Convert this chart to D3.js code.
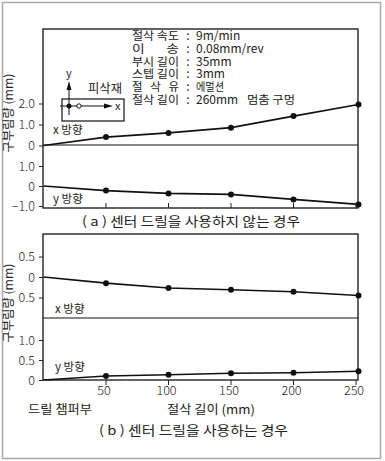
<!DOCTYPE html>
<html>
<head>
<meta charset="utf-8">
<script src="https://cdn.jsdelivr.net/npm/d3@7"></script>
<style>
  body { margin: 0; background: #fff; }
  text { font-family: "Noto Sans CJK KR", "Noto Sans", sans-serif; fill: #222; }
</style>
</head>
<body>
<div id="chart"></div>
<script>
// 절삭 길이 (mm)
const lengths = [0, 50, 100, 150, 200, 252];
// (a) 센터 드릴 미사용
const aX = [0, 0.4, 0.6, 0.85, 1.4, 1.95];
const aY = [0, -0.23, -0.37, -0.42, -0.67, -0.92];
// (b) 센터 드릴 사용
const bX = [0, -0.15, -0.27, -0.31, -0.36, -0.45];
const bY = [0, 0.1, 0.13, 0.17, 0.18, 0.22];

const xTicks = [50, 100, 150, 200, 250];
const aXTicks = [0, 1, 2], aXLabels = ["0", "1.0", "2.0"];
const aYTicks = [-1, 0, 1], aYLabels = ["\u22121.0", "0", "1.0"];
const bXTicks = [-0.5, 0, 0.5], bXLabels = ["0.5", "0", "0.5"];
const bYTicks = [0, 0.5, 1], bYLabels = ["0", "0.5", "1.0"];

const condLabels = ["절삭 속도", "이       송", "부시 길이", "스텝 길이", "절   삭   유", "절삭 길이"];
const condValues = ["9m/min", "0.08mm/rev", "35mm", "3mm", "에멀션", "260mm"];

const width = 385, height = 461;
const left = 43, right = 358;

const svg = d3.select("#chart").append("svg")
  .attr("width", width).attr("height", height);

// 바깥 테두리
svg.append("rect")
  .attr("x", 2.5).attr("y", 2.5).attr("width", 378).attr("height", 456)
  .attr("fill", "none").attr("stroke", "#aaa").attr("stroke-width", 1.5);

const x = d3.scaleLinear().domain([0, 250]).range([left + 0.5, 356]);

function panel(top, bottom, mid, sections, tickDir) {
  const g = svg.append("g");
  g.append("rect")
    .attr("x", left).attr("y", top).attr("width", right - left).attr("height", bottom - top)
    .attr("fill", "none").attr("stroke", "#111").attr("stroke-width", 1.3);
  g.append("line")
    .attr("x1", left).attr("x2", right).attr("y1", mid).attr("y2", mid)
    .attr("stroke", "#111").attr("stroke-width", 1);

  for (const s of sections) {
    const axis = d3.axisLeft(s.y).tickValues(s.ticks)
      .tickFormat((d, i) => s.labels[i]).tickSize(4).tickPadding(4);
    const ag = g.append("g").attr("transform", `translate(${left},0)`).call(axis);
    ag.select(".domain").remove();
    ag.selectAll("text").attr("font-size", 12.5).attr("fill", "#444")
      .attr("font-family", "DejaVu Sans, sans-serif").attr("font-weight", 200);
    ag.selectAll("line").attr("stroke", "#222");

    const line = d3.line().x((d, i) => x(lengths[i])).y(d => s.y(d));
    g.append("path").datum(s.values)
      .attr("d", line).attr("fill", "none").attr("stroke", "#111").attr("stroke-width", 1.6);
    g.selectAll(null).data(s.values.slice(1)).join("circle")
      .attr("cx", (d, i) => x(lengths[i + 1]))
      .attr("cy", d => s.y(d))
      .attr("r", 3).attr("fill", "#111");
  }

  // 아래쪽 눈금
  g.selectAll(null).data(xTicks).join("line")
    .attr("x1", d => x(d)).attr("x2", d => x(d))
    .attr("y1", bottom).attr("y2", bottom + tickDir * 5)
    .attr("stroke", "#222").attr("stroke-width", 1);
  return g;
}

// (a)
const yAx = d3.scaleLinear().domain([0, 2]).range([145.5, 103.5]);
const yAy = d3.scaleLinear().domain([-1, 1]).range([206, 166]);
panel(29, 208, 145, [
  { y: yAx, ticks: aXTicks, labels: aXLabels, values: aX },
  { y: yAy, ticks: aYTicks, labels: aYLabels, values: aY }
], -1);

// (b)
const yBx = d3.scaleLinear().domain([-0.5, 0.5]).range([297.5, 256.5]);
const yBy = d3.scaleLinear().domain([0, 1]).range([380, 340]);
panel(234, 380, 318, [
  { y: yBx, ticks: bXTicks, labels: bXLabels, values: bX },
  { y: yBy, ticks: bYTicks, labels: bYLabels, values: bY }
], 1);

// x축 눈금 라벨 (b)
svg.selectAll(null).data(xTicks).join("text")
  .attr("x", d => x(d) - 2).attr("y", 395)
  .attr("text-anchor", "middle").attr("font-size", 12.5).attr("fill", "#444")
  .attr("font-family", "DejaVu Sans, sans-serif").attr("font-weight", 200)
  .text(d => d);

// 방향 라벨
const dirLabels = [
  ["x 방향", 53, 134], ["y 방향", 53, 203],
  ["x 방향", 55, 313], ["y 방향", 55, 371]
];
svg.selectAll(null).data(dirLabels).join("text")
  .attr("x", d => d[1]).attr("y", d => d[2])
  .attr("font-size", 11.5).attr("fill", "#222")
  .text(d => d[0]);

// 세로축 제목
[[13, 113], [13, 303]].forEach(([cx, cy]) => {
  svg.append("text")
    .attr("transform", `translate(${cx},${cy}) rotate(-90)`)
    .attr("text-anchor", "middle").attr("font-size", 12).attr("fill", "#333")
    .attr("textLength", 79).attr("lengthAdjust", "spacingAndGlyphs")
    .text("구부림량 (mm)");
});

// 조건 표
const cond = svg.append("g");
condLabels.forEach((c, i) => {
  const yy = 40 + i * 12.8;
  cond.append("text").attr("x", 132).attr("y", yy).attr("font-size", 11.5)
    .attr("textLength", 47).attr("lengthAdjust", "spacingAndGlyphs")
    .style("white-space", "pre").text(c);
  cond.append("text").attr("x", 188).attr("y", yy).attr("text-anchor", "middle")
    .attr("font-size", 12).text(":");
  const v = cond.append("text").attr("x", 196).attr("y", yy).style("white-space", "pre")
    .text(condValues[i]);
  if (/[가-힣]/.test(condValues[i])) {
    v.attr("font-size", 11).attr("textLength", 28).attr("lengthAdjust", "spacingAndGlyphs");
  } else {
    v.attr("font-size", 12).attr("font-family", "Liberation Sans, sans-serif").attr("fill", "#333");
  }
});
cond.append("text").attr("x", 247).attr("y", 40 + 5 * 12.8).attr("font-size", 11.5)
  .attr("textLength", 48).attr("lengthAdjust", "spacingAndGlyphs").text("멈춤 구멍");

// 피삭재 그림
const inset = svg.append("g");
inset.append("rect").attr("x", 62).attr("y", 99).attr("width", 62).attr("height", 22)
  .attr("fill", "none").attr("stroke", "#111").attr("stroke-width", 1.2);
inset.append("line").attr("x1", 60).attr("x2", 108).attr("y1", 106).attr("y2", 106)
  .attr("stroke", "#111").attr("stroke-width", 1);
inset.append("path").attr("d", "M104,103.5 L113,106 L104,108.5 Z").attr("fill", "#111");
inset.append("line").attr("x1", 69).attr("x2", 69).attr("y1", 115).attr("y2", 86)
  .attr("stroke", "#111").attr("stroke-width", 1);
inset.append("path").attr("d", "M66.5,90 L69,81 L71.5,90 Z").attr("fill", "#111");
inset.append("circle").attr("cx", 69).attr("cy", 106).attr("r", 2.5).attr("fill", "#111");
inset.append("circle").attr("cx", 79).attr("cy", 106).attr("r", 2.2)
  .attr("fill", "#fff").attr("stroke", "#111").attr("stroke-width", 1);
inset.append("text").attr("x", 115).attr("y", 110).attr("font-size", 11).text("x");
inset.append("text").attr("x", 66).attr("y", 77).attr("font-size", 11).text("y");
inset.append("text").attr("x", 88).attr("y", 93).attr("font-size", 12)
  .attr("textLength", 34).attr("lengthAdjust", "spacingAndGlyphs").text("피삭재");

// 캡션
svg.append("text").attr("x", 82).attr("y", 226)
  .attr("font-size", 13).attr("textLength", 218).attr("lengthAdjust", "spacingAndGlyphs")
  .text("( a )  센터 드릴을 사용하지 않는 경우");
svg.append("text").attr("x", 28).attr("y", 414).attr("font-size", 12.5)
  .attr("textLength", 64).attr("lengthAdjust", "spacingAndGlyphs").text("드릴 챔퍼부");
svg.append("text").attr("x", 167).attr("y", 414).attr("font-size", 12.5)
  .attr("textLength", 88).attr("lengthAdjust", "spacingAndGlyphs").text("절삭 길이 (mm)");
svg.append("text").attr("x", 99).attr("y", 435)
  .attr("font-size", 13).attr("textLength", 189).attr("lengthAdjust", "spacingAndGlyphs")
  .text("( b )  센터 드릴을 사용하는 경우");
</script>
</body>
</html>
